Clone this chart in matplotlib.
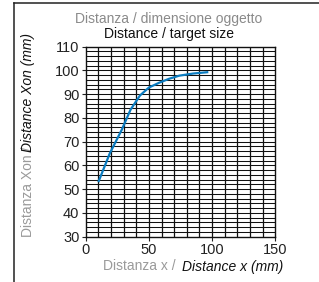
import matplotlib
matplotlib.use("Agg")
import matplotlib.pyplot as plt
from matplotlib.lines import Line2D
import numpy as np

x_vals = [10, 19, 28.5, 35.5, 43, 50, 58, 66, 74, 85, 97]
y_vals = [53, 65, 75, 83.5, 89.5, 92.8, 94.8, 96.5, 97.8, 98.7, 99.3]
x_ticks = [0, 50, 100, 150]
y_ticks = [30, 40, 50, 60, 70, 80, 90, 100, 110]

FONT = ['Liberation Sans', 'DejaVu Sans']
plt.rcParams['font.family'] = FONT

W, H = 319, 282
fig = plt.figure(figsize=(W/100, H/100), dpi=100)
fig.patch.set_facecolor('white')

L, R, T, B = 85.7, 275.3, 46.7, 236.7
ax = fig.add_axes([L/W, 1-B/H, (R-L)/W, (B-T)/H])
ax.set_xlim(0, 150)
ax.set_ylim(30, 110)

for xv in np.arange(10, 150, 10):
    ax.axvline(xv, color='#111111', lw=0.9, zorder=1)
for yv in np.arange(32, 110, 2):
    ax.axhline(yv, color='#111111', lw=0.75, zorder=1)

ax.plot(x_vals, y_vals, color='#0b7cc0', lw=1.6, zorder=3, solid_capstyle='butt')

ax.set_xticks(x_ticks)
ax.set_yticks(y_ticks)
ax.tick_params(axis='both', direction='out', length=3, width=0.8, colors='#222222',
               labelsize=10.5, pad=1.5)
for s in ax.spines.values():
    s.set_color('#111111')
    s.set_linewidth(1.0)

# Titles
tx = 168.5/W
fig.text(tx, 1-19/H, 'Distanza / dimensione oggetto', ha='center', va='center',
         color='#8a8a8a', fontsize=10)
fig.text(tx, 1-34/H, 'Distance / target size', ha='center', va='center',
         color='#111111', fontsize=10)

# X label
fig.text(176/W, 1-266.5/H, 'Distanza x /', ha='right', va='center',
         color='#9a9a9a', fontsize=10)
fig.text(182.5/W, 1-266.5/H, 'Distance x (mm)', ha='left', va='center',
         color='#111111', fontsize=10, style='italic')

# Y label
fig.text(28.5/W, 1-147/H, 'Distanza Xon /', ha='center', va='top', rotation=90,
         color='#9a9a9a', fontsize=10)
fig.text(28.5/W, 1-152/H, 'Distance Xon (mm)', ha='center', va='bottom', rotation=90,
         color='#111111', fontsize=10, style='italic')

# Frame lines
fig.add_artist(Line2D([14/W, 14/W], [1-3/H, 0], color='#222222', lw=1.1,
                      transform=fig.transFigure))
fig.add_artist(Line2D([14/W, 1], [1-3/H, 1-3/H], color='#222222', lw=1.1,
                      transform=fig.transFigure))

fig.savefig('out.png', dpi=100, facecolor='white')
